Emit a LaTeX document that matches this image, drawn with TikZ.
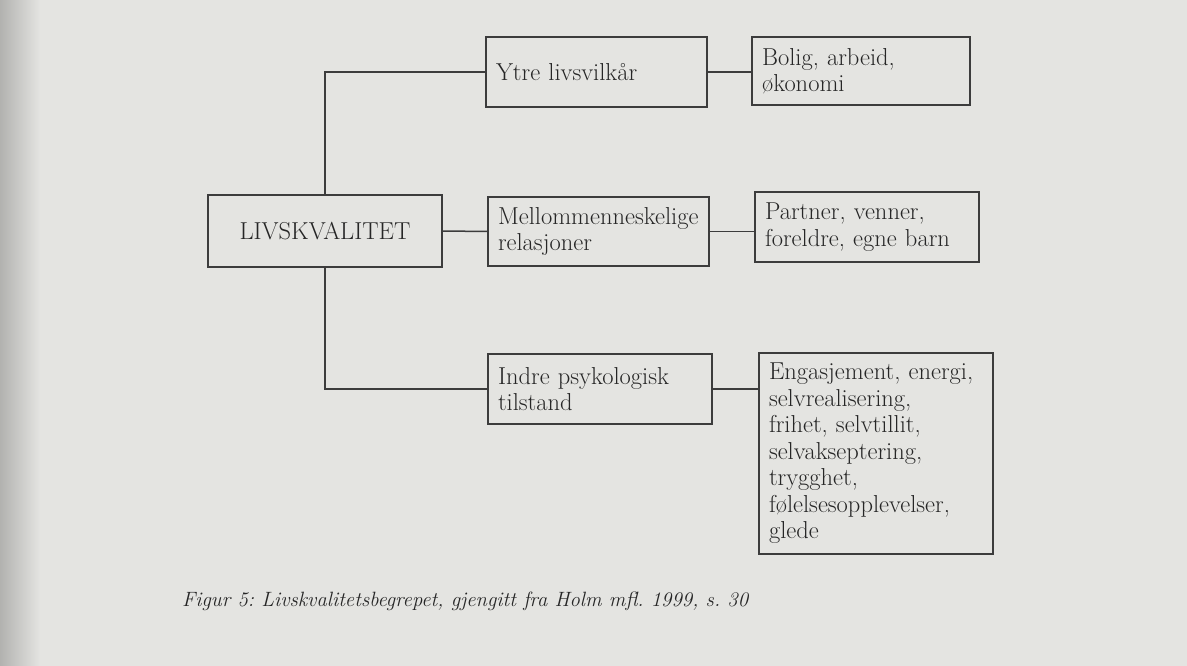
\documentclass[tikz,border=0pt]{standalone}
\usepackage{fontspec}
\usepackage{xcolor}
\usepackage{tikz}
\usetikzlibrary{positioning}
\definecolor{papir}{RGB}{228,228,225}
\definecolor{linje}{RGB}{60,60,60}
\definecolor{tekst}{RGB}{38,38,38}

\begin{document}
\begin{tikzpicture}[x=1pt, y=-1pt,
  boks/.style={draw=linje, line width=1.5pt, text=tekst, inner xsep=10pt, align=left,
    font=\fontsize{24.5}{26.5}\selectfont},
  forb/.style={draw=linje, line width=1.5pt}]
  % Paper
  \fill[papir] (0,0) rectangle (1187,666);
  \shade[left color=papir!78!black, right color=papir] (0,0) rectangle (40,666);
  \useasboundingbox (0,0) rectangle (1187,666);

  % Main concept
  \node[boks, minimum width=234pt, minimum height=72pt, align=center] (liv) at (325,231) {LIVSKVALITET};

  % Middle column
  \node[boks, text width=201pt, minimum height=70pt] (ytre) at (596.5,72) {Ytre livsvilkår};
  \node[boks, text width=201pt, minimum height=69pt] (mellom) at (598.5,231.5) {Mellommenneskelige\\relasjoner};
  \node[boks, text width=204pt, minimum height=70pt] (indre) at (600,389) {Indre psykologisk\\tilstand};

  % Right column
  \node[boks, text width=198pt, minimum height=68pt] (bolig) at (861,71) {Bolig, arbeid,\\økonomi};
  \node[boks, text width=204pt, minimum height=70pt] (partner) at (867,227) {Partner, venner,\\foreldre, egne barn};
  \node[boks, text width=214pt, minimum height=201pt] (engas) at (876,453.5) {Engasjement, energi,\\selvrealisering,\\frihet, selvtillit,\\selvakseptering,\\trygghet,\\følelsesopplevelser,\\glede};

  % Lines from main concept
  \draw[forb] (liv.north) |- (ytre.west);
  \draw[forb] (liv.east) -- (mellom.west);
  \draw[forb] (liv.south) |- (indre.west);

  % Lines to the examples
  \draw[forb] (ytre.east) -- (ytre.east -| bolig.west);
  \draw[forb] (mellom.east) -- (mellom.east -| partner.west);
  \draw[forb] (indre.east) -- (indre.east -| engas.west);

  % Caption
  \node[anchor=base west, inner sep=0pt, text=tekst, font=\frenchspacing\itshape\fontsize{20.7}{24}\selectfont] (figtekst) at (182,606)
    {Figur 5: Livskvalitetsbegrepet, gjengitt fra Holm mfl. 1999, s. 30};
\end{tikzpicture}
\end{document}
